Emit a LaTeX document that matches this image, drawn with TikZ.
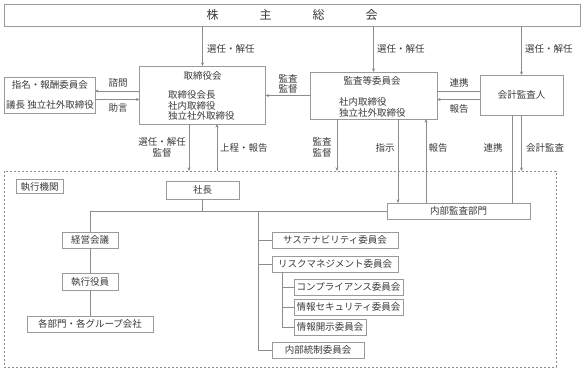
\documentclass[tikz,border=0pt]{standalone}
\usepackage{fontspec}
\newfontfamily\jp{Noto Sans CJK JP}
\usetikzlibrary{arrows.meta}
\definecolor{bordc}{HTML}{9A9A9A}
\definecolor{linec}{HTML}{8C8C8C}
\definecolor{txtc}{HTML}{3A3A3A}
\begin{document}
\begin{tikzpicture}[x=1pt,y=-1pt,
  box/.style={draw=bordc, line width=0.7pt, inner sep=0pt, outer sep=0pt, font=\jp\fontsize{9.5}{11}\selectfont, text=txtc},
  txt/.style={inner sep=0pt, font=\jp\fontsize{9.5}{11}\selectfont, text=txtc, align=center},
  ln/.style={draw=linec, line width=0.7pt},
  arr/.style={ln, -{Stealth[length=3.5pt,width=3pt]}},
]
\useasboundingbox[fill=white] (0,0) rectangle (584,373);

% top
\node[box, minimum width=576, minimum height=22, font=\jp\fontsize{12}{14}\selectfont] (gm) at (292,15) {株\hspace{41pt}主\hspace{41pt}総\hspace{41pt}会};

% upper boxes
\node[box, minimum width=91, minimum height=36] (nom) at (49.5,95) {};
\node[txt] (nomt1) at (50,85) {指名・報酬委員会};
\node[txt] (nomt2) at (50,104.5) {議長 独立社外取締役};

\node[box, minimum width=126, minimum height=58] (board) at (202.5,95) {};
\node[txt] (boardt) at (202.5,75.5) {取締役会};
\node[txt, align=left, anchor=west, font=\jp\fontsize{9.5}{10.5}\selectfont] (boardl) at (168,105.5) {取締役会長\\社内取締役\\独立社外取締役};

\node[box, minimum width=127, minimum height=47] (aud) at (373.5,95.5) {};
\node[txt] (audt) at (372,80.5) {監査等委員会};
\node[txt, align=left, anchor=west, font=\jp\fontsize{9.5}{11.5}\selectfont] (audl) at (339,107.5) {社内取締役\\独立社外取締役};

\node[box, minimum width=83, minimum height=40] (acc) at (521.5,95) {会計監査人};

% executive area
\node[draw=linec, line width=0.7pt, dash pattern=on 2pt off 2pt, inner sep=0pt, outer sep=0pt, minimum width=552, minimum height=196] (exec) at (280,269) {};
\node[box, minimum width=47, minimum height=14] (shk) at (39.5,186.5) {執行機関};
\node[box, minimum width=73, minimum height=18] (pres) at (202.5,190) {社長};
\node[box, minimum width=143, minimum height=16] (naibu) at (458.5,211) {内部監査部門};
\node[box, minimum width=56, minimum height=16] (keiei) at (90,240) {経営会議};
\node[box, minimum width=56, minimum height=17] (yakuin) at (90,281.5) {執行役員};
\node[box, minimum width=126, minimum height=16] (kakubu) at (90,324) {各部門・各グループ会社};
\node[box, minimum width=126, minimum height=16] (sus) at (335,240) {サステナビリティ委員会};
\node[box, minimum width=126, minimum height=16] (risk) at (335,264) {リスクマネジメント委員会};
\node[box, minimum width=109, minimum height=16] (comp) at (348.5,287) {コンプライアンス委員会};
\node[box, minimum width=109, minimum height=16] (sec) at (348.5,307) {情報セキュリティ委員会};
\node[box, minimum width=72, minimum height=16] (disc) at (330,327) {情報開示委員会};
\node[box, minimum width=92, minimum height=16] (ctrl) at (318,350) {内部統制委員会};

% arrows from general meeting
\draw[arr] (board.north |- gm.south) -- (board.north);
\draw[arr] (aud.north |- gm.south) -- (aud.north);
\draw[arr] (acc.north |- gm.south) -- (acc.north);
\node[txt, anchor=west] (l1) at (207,49) {選任・解任};
\node[txt, anchor=west] (l2) at (377,49) {選任・解任};
\node[txt, anchor=west] (l3) at (525,49) {選任・解任};

% board <-> nomination
\draw[arr] ([yshift=4pt]board.west) -- ([yshift=4pt]board.west -| nom.east);
\draw[arr] ([yshift=-4.5pt]nom.east) -- ([yshift=-4.5pt]nom.east -| board.west);
\node[txt] (l4) at (118,83) {諮問};
\node[txt] (l5) at (118,107.5) {助言};

% audit -> board
\draw[arr] (aud.west) -- (aud.west -| board.east);
\node[txt, font=\jp\fontsize{9.5}{10.5}\selectfont] (l6) at (288,84) {監査\\監督};

% accounting auditor <-> audit committee
\draw[ln] ([yshift=4pt]acc.west) -- ([yshift=4pt]acc.west -| aud.east);
\draw[arr] ([yshift=-4.5pt]acc.west) -- ([yshift=-4.5pt]acc.west -| aud.east);
\node[txt] (l7) at (459,83) {連携};
\node[txt] (l8) at (459,109) {報告};

% board <-> executive
\draw[arr] ([xshift=-13.5pt]board.south) -- ([xshift=-13.5pt]board.south |- exec.north);
\draw[arr] ([xshift=14.5pt]board.south |- exec.north) -- ([xshift=14.5pt]board.south);
\node[txt, font=\jp\fontsize{9.5}{11}\selectfont] (l9) at (162,147.5) {選任・解任\\監督};
\node[txt, anchor=west] (l10) at (220,148) {上程・報告};

% audit committee -> executive / internal audit
\draw[arr] ([xshift=-36.5pt]aud.south) -- ([xshift=-36.5pt]aud.south |- exec.north);
\draw[arr] ([xshift=24.5pt]aud.south) -- ([xshift=24.5pt]aud.south |- naibu.north);
\draw[arr] ([xshift=52.5pt]aud.south |- naibu.north) -- ([xshift=52.5pt]aud.south);
\node[txt, font=\jp\fontsize{9.5}{10.5}\selectfont] (l11) at (322,147.5) {監査\\監督};
\node[txt] (l12) at (385,148) {指示};
\node[txt] (l13) at (438,148) {報告};

% accounting auditor -> internal audit / executive
\draw[ln] ([xshift=-9.5pt]acc.south) -- ([xshift=-9.5pt]acc.south |- naibu.north);
\draw[arr] (acc.south) -- (acc.south |- exec.north);
\node[txt] (l14) at (493,148) {連携};
\node[txt] (l15) at (545,148) {会計監査};

% organisation tree
\coordinate (hy) at (0,211);
\draw[ln] (pres.south) -- (pres.south |- hy);
\draw[ln] (keiei.north |- hy) -- (naibu.west);
\draw[ln] (keiei.north |- hy) -- (keiei.north);
\draw[ln] (keiei.south) -- (yakuin.north);
\draw[ln] (yakuin.south) -- (kakubu.north);

\coordinate (tx) at (258,0);
\draw[ln] (tx |- hy) -- (tx |- ctrl.west) -- (ctrl.west);
\draw[ln] (tx |- sus.west) -- (sus.west);
\draw[ln] (tx |- risk.west) -- (risk.west);

\coordinate (sx) at (282,0);
\draw[ln] (sx |- risk.south) -- (sx |- disc.west) -- (disc.west);
\draw[ln] (sx |- comp.west) -- (comp.west);
\draw[ln] (sx |- sec.west) -- (sec.west);
\end{tikzpicture}
\end{document}
